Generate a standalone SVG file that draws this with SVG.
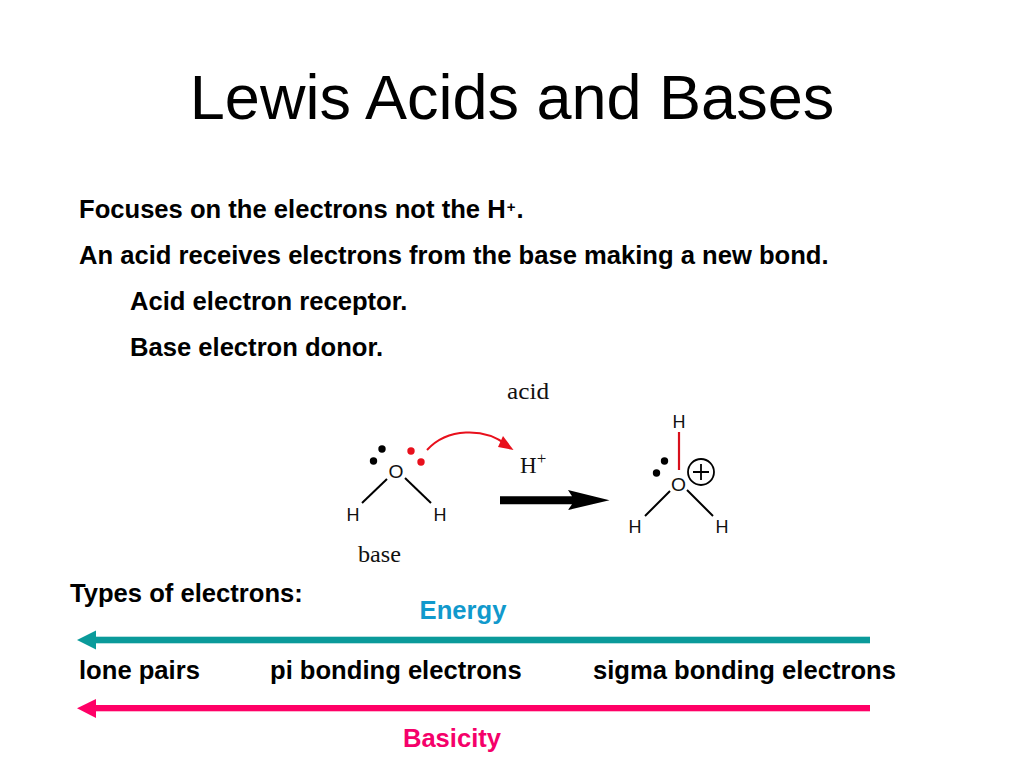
<svg xmlns="http://www.w3.org/2000/svg" width="1024" height="768" viewBox="0 0 1024 768">
<style>
text{font-family:"Liberation Sans",Arial,sans-serif}
.b{font-size:25.6px;font-weight:bold;fill:#000}
.s{font-family:"Liberation Serif","Times New Roman",serif;font-size:23px;fill:#111}
.a{font-size:18px;fill:#111}
.l{stroke:#000;stroke-width:2;fill:none}
.k{fill:#000}
.r{fill:#e8101c}
</style>
<rect width="1024" height="768" fill="#fff"/>
<text id="title" x="512" y="118.500" font-size="63" text-anchor="middle">Lewis Acids and Bases</text>
<g id="body">
<text class="b" x="79" y="218">Focuses on the electrons not the H<tspan font-size="15" dy="-6" dx="1">+</tspan><tspan dy="6" dx="1">.</tspan></text>
<text class="b" x="79" y="264">An acid receives electrons from the base making a new bond.</text>
<text class="b" x="130" y="310">Acid electron receptor.</text>
<text class="b" x="130" y="356">Base electron donor.</text>
<text class="b" x="70" y="602">Types of electrons:</text>
</g>
<g id="water">
<text class="a" x="396" y="477.500" text-anchor="middle" font-size="17" textLength="15" lengthAdjust="spacingAndGlyphs">O</text>
<text class="a" x="353" y="520.500" text-anchor="middle">H</text>
<text class="a" x="440" y="520.500" text-anchor="middle">H</text>
<line class="l" x1="387" y1="479" x2="362" y2="503"/>
<line class="l" x1="405" y1="478" x2="431" y2="503"/>
<circle class="k" cx="382" cy="449" r="3.700"/><circle class="k" cx="373.500" cy="461" r="3.700"/>
<circle class="r" cx="411" cy="451" r="3.700"/><circle class="r" cx="421" cy="462" r="3.700"/>
<text class="s" x="379.500" y="561.500" text-anchor="middle" textLength="43" lengthAdjust="spacingAndGlyphs">base</text>
</g>
<g id="proton">
<text class="s" x="528" y="399" text-anchor="middle" textLength="42" lengthAdjust="spacingAndGlyphs">acid</text>
<text class="s" x="520" y="473">H<tspan font-size="17" dy="-9">+</tspan></text>
</g>
<g id="hydronium">
<text class="a" x="679" y="428" text-anchor="middle">H</text>
<text class="a" x="678.500" y="490.500" text-anchor="middle" font-size="17" textLength="15" lengthAdjust="spacingAndGlyphs">O</text>
<text class="a" x="635" y="533" text-anchor="middle">H</text>
<text class="a" x="722" y="533" text-anchor="middle">H</text>
<line x1="679" y1="432" x2="679" y2="470" stroke="#d8101c" stroke-width="2.200"/>
<line class="l" x1="670" y1="491" x2="645" y2="516"/>
<line class="l" x1="687" y1="490" x2="713" y2="516"/>
<circle class="k" cx="664.500" cy="461" r="3.700"/><circle class="k" cx="656.500" cy="473" r="3.700"/>
<circle cx="701" cy="472" r="13" fill="none" stroke="#000" stroke-width="1.800"/>
<path d="M693 472H709M701 464V480" stroke="#000" stroke-width="1.800"/>
</g>
<g id="connectors">
<path d="M427 450C447 428 484 427 507 445" fill="none" stroke="#e8101c" stroke-width="2"/>
<path d="M513.500 450L503 436L498 447Z" fill="#e8101c"/>
<path d="M500 496.300H572L568 490L609.500 500.300L568 510L572 504.300H500Z" fill="#000"/>
<rect x="92" y="636.700" width="778" height="6.600" fill="#0a9a9a"/>
<path d="M77 640L96 630.500V649.500Z" fill="#0a9a9a"/>
<rect x="92" y="705" width="778" height="6.300" fill="#ff0066"/>
<path d="M77 708.300L96 699V718Z" fill="#ff0066"/>
</g>
<g id="scale">
<text class="b" x="463" y="619" text-anchor="middle" style="fill:#1199cc">Energy</text>
<text class="b" x="79" y="679">lone pairs</text>
<text class="b" x="270" y="679">pi bonding electrons</text>
<text class="b" x="593" y="679">sigma bonding electrons</text>
<text class="b" x="452" y="747" text-anchor="middle" style="fill:#f5006a">Basicity</text>
</g>
</svg>
